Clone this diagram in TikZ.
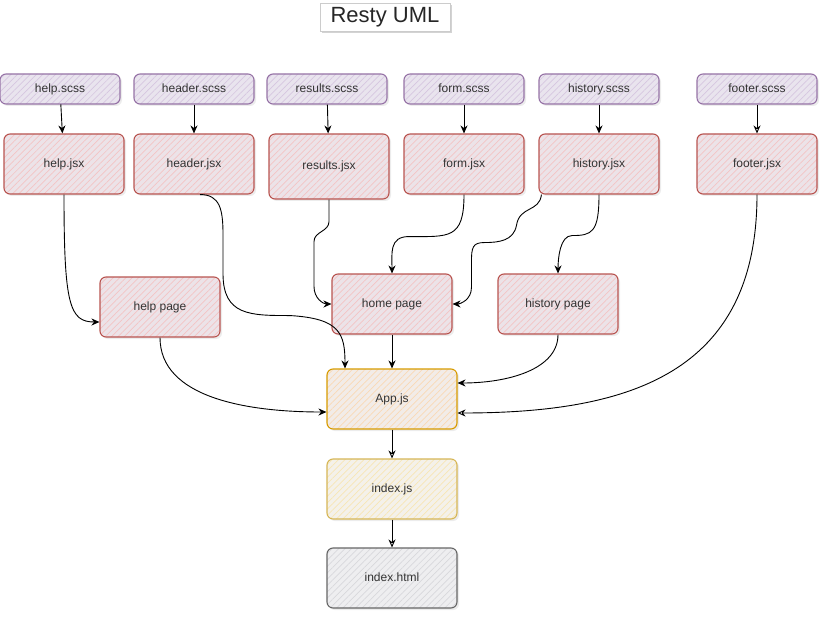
\documentclass[tikz,border=0pt]{standalone}
\usepackage{fontspec}
\setmainfont{Liberation Sans}
\usepackage{xcolor}
\usetikzlibrary{arrows.meta,positioning,calc,patterns.meta,shadows}
\definecolor{scssline}{HTML}{9673A6}
\definecolor{scssfill}{HTML}{E9E4EE}
\definecolor{scsshatch}{HTML}{D6C6E0}
\definecolor{jsxline}{HTML}{B85450}
\definecolor{jsxfill}{HTML}{ECE3E8}
\definecolor{jsxhatch}{HTML}{F4C4C4}
\definecolor{appline}{HTML}{D79B00}
\definecolor{appfill}{HTML}{F2ECE8}
\definecolor{apphatch}{HTML}{FAD9B5}
\definecolor{idxline}{HTML}{D6B656}
\definecolor{idxfill}{HTML}{F4F1EA}
\definecolor{idxhatch}{HTML}{F8E6B4}
\definecolor{htmlline}{HTML}{666666}
\definecolor{htmlfill}{HTML}{EEEEF0}
\definecolor{htmlhatch}{HTML}{D8D8DC}

\begin{document}
\begin{tikzpicture}[x=1pt,y=-1pt,
  box/.style={rounded corners=6pt,line width=1.1pt,minimum width=120pt,minimum height=60pt,
    font=\fontsize{12}{14}\selectfont,text=black!80,text height=9pt,text depth=2pt,
    drop shadow={opacity=0.15,shadow xshift=2pt,shadow yshift=-2pt},
    pattern={Lines[angle=45,distance=4.5pt,line width=0.7pt]}},
  scss/.style={box,draw=scssline,preaction={fill=scssfill},pattern color=scsshatch,minimum height=30pt},
  jsx/.style={box,draw=jsxline,preaction={fill=jsxfill},pattern color=jsxhatch},
  app/.style={box,draw=appline,preaction={fill=appfill},pattern color=apphatch,minimum width=130pt},
  idx/.style={box,draw=idxline,preaction={fill=idxfill},pattern color=idxhatch,minimum width=130pt},
  html/.style={box,draw=htmlline,preaction={fill=htmlfill},pattern color=htmlhatch,minimum width=130pt},
  arr/.style={-{Stealth[length=8pt,width=7pt]},line width=0.9pt},
  arro/.style={-{Stealth[open,length=8pt,width=7pt,fill=white]},line width=0.9pt}]
  \useasboundingbox (0,0) rectangle (829,620);
  % title
  \node[draw=gray!40,fill=white,drop shadow={opacity=0.35,shadow xshift=2pt,shadow yshift=-2.5pt},
    minimum width=130pt,minimum height=28pt,inner sep=0pt,font=\fontsize{22}{24}\selectfont,text=black!85]
    (title) at (385,17) {Resty UML};
  % stylesheets
  \node[scss] (helpscss) at (60,89) {help.scss};
  \node[scss] (headerscss) at (194,89) {header.scss};
  \node[scss] (resultsscss) at (327,89) {results.scss};
  \node[scss] (formscss) at (464,89) {form.scss};
  \node[scss] (historyscss) at (599,89) {history.scss};
  \node[scss] (footerscss) at (757,89) {footer.scss};
  % components
  \node[jsx] (helpjsx) at (64,164) {help.jsx};
  \node[jsx] (headerjsx) at (194,164) {header.jsx};
  \node[jsx,minimum height=65pt] (resultsjsx) at (329,166.5) {results.jsx};
  \node[jsx] (formjsx) at (464,164) {form.jsx};
  \node[jsx] (historyjsx) at (599,164) {history.jsx};
  \node[jsx] (footerjsx) at (757,164) {footer.jsx};
  % pages
  \node[jsx] (helppage) at (160,307) {help page};
  \node[jsx] (homepage) at (392,304) {home page};
  \node[jsx] (historypage) at (558,304) {history page};
  % entry
  \node[app] (appjs) at (392,399) {App.js};
  \node[idx] (indexjs) at (392,489) {index.js};
  \node[html] (indexhtml) at (392,578) {index.html};

  % scss -> jsx
  \draw[arr] (helpscss) -- (helpjsx);
  \draw[arr] (headerscss) -- (headerjsx);
  \draw[arr] (resultsscss) -- (resultsjsx);
  \draw[arr] (formscss) -- (formjsx);
  \draw[arr] (historyscss) -- (historyjsx);
  \draw[arro] (footerscss) -- (footerjsx);
  % jsx -> pages
  \draw[arr] (helpjsx.south) .. controls +(0,110) and +(-30,0) .. ($(helppage.west)+(0,15)$);
  \draw[arr] (resultsjsx.south) -- ++(0,22) .. controls +(0,10) and +(0,-10) .. ++(-15,20)
    -- ++(0,45) .. controls +(0,12) and +(-8,0) .. (homepage.west);
  \draw[arr] (formjsx.south) .. controls +(0,45) and +(40,0) .. ++(-55,42)
    .. controls +(-20,0) and +(0,-20) .. (homepage.north);
  \draw[arr] ($(historyjsx.south west)+(3,0)$) .. controls +(-2,18) and +(3,-20) .. ++(-25,31)
    .. controls +(-3,15) and +(15,0) .. ++(-32,17) .. controls +(-12,0) and +(0,-15) .. ++(-13,20)
    -- ++(0,25) .. controls +(0,12) and +(8,0) .. (homepage.east);
  \draw[arr] (historyjsx.south) .. controls +(0,38) and +(20,0) .. ++(-27,41)
    .. controls +(-12,0) and +(0,-15) .. (historypage.north);
  % into App.js
  \draw[arr] ($(headerjsx.south)+(6,0)$) .. controls +(20,0) and +(0,-25) .. ++(23,40) -- ++(0,39)
    .. controls +(0,42) and +(-40,0) .. ++(67,42) .. controls +(50,3) and +(0,-35) .. ($(appjs.north)+(-47,0)$);
  \draw[arr] (helppage.south) .. controls +(0,60) and +(-80,0) .. ($(appjs.west)+(0,13)$);
  \draw[arr] (homepage) -- (appjs);
  \draw[arr] (historypage.south) .. controls +(0,35) and +(50,0) .. ($(appjs.east)+(0,-16)$);
  \draw[arro] (footerjsx.south) .. controls +(0,180) and +(170,0) .. ($(appjs.east)+(0,14)$);
  % build chain
  \draw[arro] (appjs) -- (indexjs);
  \draw[arro] (indexjs) -- (indexhtml);
\end{tikzpicture}
\end{document}
